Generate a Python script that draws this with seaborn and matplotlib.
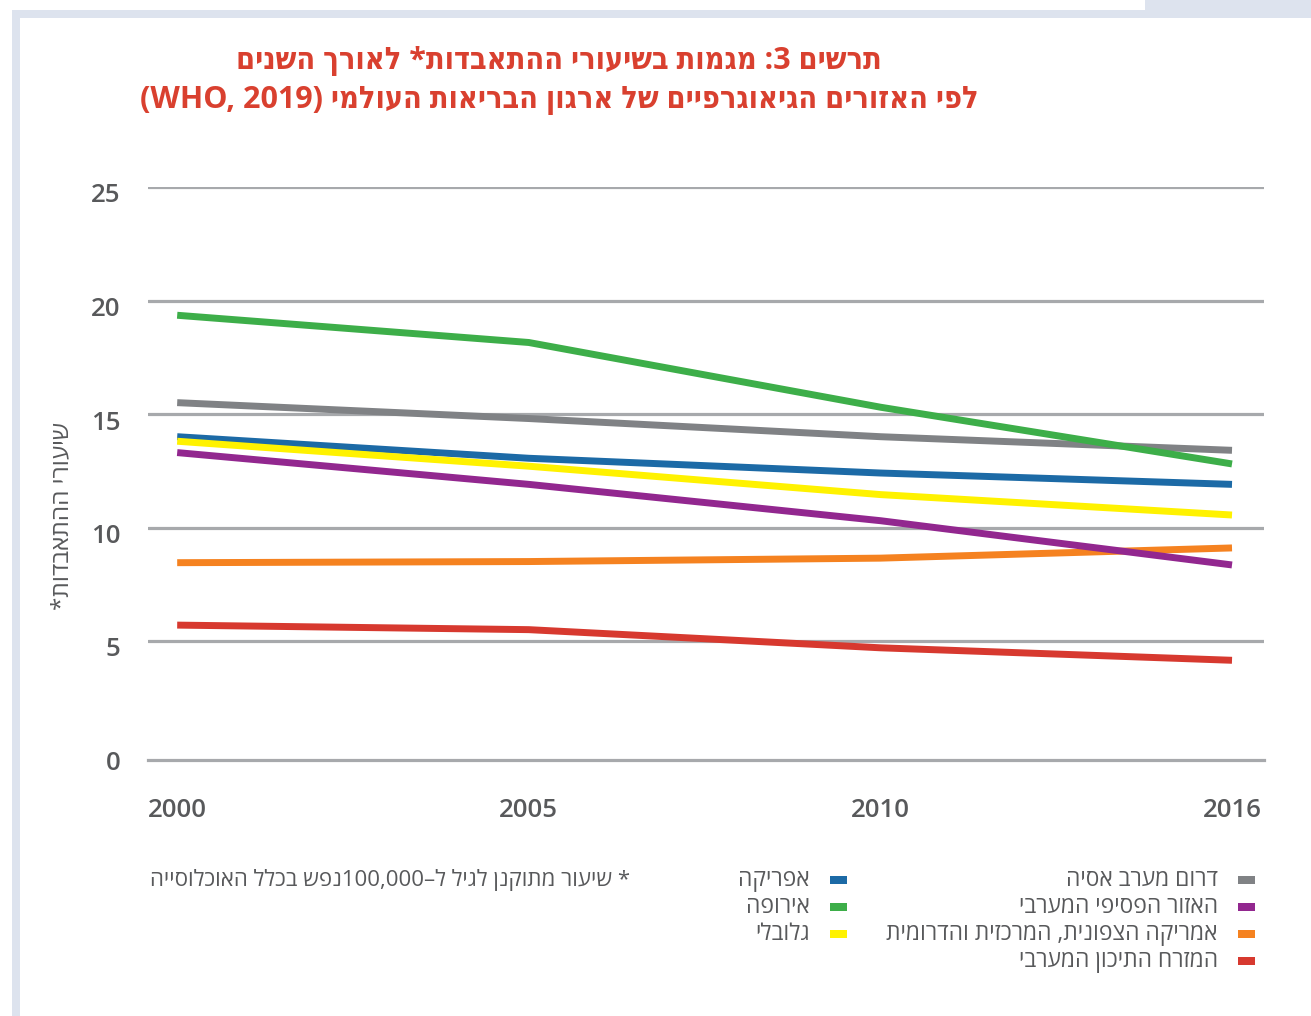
import re
import matplotlib
matplotlib.use('Agg')
import matplotlib.pyplot as plt
import matplotlib.transforms as mtransforms
from matplotlib.patches import Rectangle
import seaborn as sns
import pandas as pd

# ---------------- data ----------------
years = ['2000', '2005', '2010', '2016']
regions = [
    "דרום מערב אסיה",
    "האזור הפסיפי המערבי",
    "אמריקה הצפונית, המרכזית והדרומית",
    "המזרח התיכון המערבי",
    "אפריקה",
    "אירופה",
    "גלובלי",
]
south_east_asia = [15.5, 14.8, 14.0, 13.4]
western_pacific = [13.3, 11.9, 10.3, 8.35]
americas = [8.45, 8.5, 8.65, 9.1]
eastern_med = [5.7, 5.5, 4.7, 4.15]
africa = [14.0, 13.05, 12.4, 11.9]
europe = [19.35, 18.15, 15.3, 12.8]
global_rate = [13.8, 12.7, 11.45, 10.55]
series = [south_east_asia, western_pacific, americas, eastern_med, africa, europe, global_rate]
colors = ['#808285', '#92278f', '#f58220', '#d7392f', '#1c6aa6', '#3dae49', '#fff200']
y_ticks = [0, 5, 10, 15, 20, 25]

title_lines = ["תרשים 3: מגמות בשיעורי ההתאבדות* לאורך השנים",
               "לפי האזורים הגיאוגרפיים של ארגון הבריאות העולמי (WHO, 2019)"]
y_label = "שיעורי ההתאבדות*"
footnote = "* שיעור מתוקנן לגיל ל–100,000נפש בכלל האוכלוסייה"


def rtl(s):
    """Convert logical-order Hebrew text to visual (left-to-right) order."""
    r = s[::-1]
    r = re.sub(r'[A-Za-z0-9][A-Za-z0-9 ,.]*[A-Za-z0-9]|[A-Za-z0-9]',
               lambda m: m.group(0)[::-1], r)
    return r.translate(str.maketrans('()', ')('))


rows = []
for reg, vals in zip(regions, series):
    for yr, v in zip(years, vals):
        rows.append({'year': yr, 'value': v, 'region': reg})
df = pd.DataFrame(rows)
palette = dict(zip(regions, colors))
draw_order = [regions[2], regions[3], regions[0], regions[1], regions[4], regions[6], regions[5]]

# ---------------- figure ----------------
sns.set_theme(style='white')
plt.rcParams['font.family'] = ['Open Sans', 'DejaVu Sans']
TXT = '#58595b'
GRID = '#a7a9ac'

fig = plt.figure(figsize=(13.11, 10.16), dpi=100)
fig.patch.set_facecolor('white')
ax = fig.add_axes([148 / 1311, 1 - 754.5 / 1016, (1264 - 148) / 1311, (754.5 - 187) / 1016])

for t in y_ticks[1:]:
    ax.axhline(t, color=GRID, lw=2.3, zorder=0)

sns.lineplot(data=df, x='year', y='value', hue='region', hue_order=draw_order,
             palette=palette, linewidth=5, legend=False, sort=False, ax=ax,
             solid_capstyle='butt')

ax.set_ylim(0, 25)
ax.set_xlim(-0.083, 3.091)
ax.set_yticks(y_ticks)
ax.set_yticklabels([str(t) for t in y_ticks])
for s in ['left', 'right', 'top']:
    ax.spines[s].set_visible(False)
ax.spines['bottom'].set_color(GRID)
ax.spines['bottom'].set_linewidth(2.3)
ax.spines['bottom'].set_position(('outward', 4))
ax.tick_params(axis='x', direction='in', length=13, width=2.3, color=GRID,
               pad=27, labelsize=18.5, labelcolor=TXT)
ax.tick_params(axis='y', length=0, pad=20, labelsize=18.5, labelcolor=TXT)
shift = mtransforms.ScaledTranslation(0, -6 / 100, fig.dpi_scale_trans)
for lab in ax.get_yticklabels():
    lab.set_fontweight('semibold')
    lab.set_transform(lab.get_transform() + shift)
for lab in ax.get_xticklabels():
    lab.set_fontweight('semibold')
ax.set_xlabel('')
ax.set_ylabel('')
ax.grid(False)

# y label
fig.text(62 / 1311, 1 - 516 / 1016, rtl(y_label), rotation=90, ha='center', va='center',
         fontsize=17.5, color=TXT)

# title
for i, line in enumerate(title_lines):
    fig.text(559 / 1311, 1 - (61 + 39 * i) / 1016, rtl(line), ha='center', va='center',
             fontsize=22, fontweight='bold', color='#d9402f', fontstretch='condensed')

# footnote
fig.text(630 / 1311, 1 - 880 / 1016, rtl(footnote), ha='right', va='center',
         fontsize=16, color=TXT)

# legend (right-to-left layout, two columns)
legend_cols = [(1218, 1238, [0, 1, 2, 3]), (810, 830, [4, 5, 6])]
for text_x, sw_x, idxs in legend_cols:
    for row, idx in enumerate(idxs):
        yc = 880 + 27 * row
        fig.text(text_x / 1311, 1 - yc / 1016, rtl(regions[idx]), ha='right', va='center',
                 fontsize=16.4, color=TXT)
        fig.patches.append(Rectangle((sw_x / 1311, 1 - (yc + 4) / 1016), 17 / 1311, 8 / 1016,
                                     transform=fig.transFigure, color=colors[idx], lw=0))

# decorative frame
FRAME = '#dde3ee'
fig.patches.append(Rectangle((12 / 1311, 0), 8 / 1311, 1 - 10 / 1016,
                             transform=fig.transFigure, color=FRAME, lw=0))
fig.patches.append(Rectangle((12 / 1311, 1 - 18 / 1016), 1 - 12 / 1311, 8 / 1016,
                             transform=fig.transFigure, color=FRAME, lw=0))
fig.patches.append(Rectangle((1145 / 1311, 1 - 18 / 1016), 1 - 1145 / 1311, 18 / 1016,
                             transform=fig.transFigure, color=FRAME, lw=0))

fig.savefig('out.png', dpi=100)
